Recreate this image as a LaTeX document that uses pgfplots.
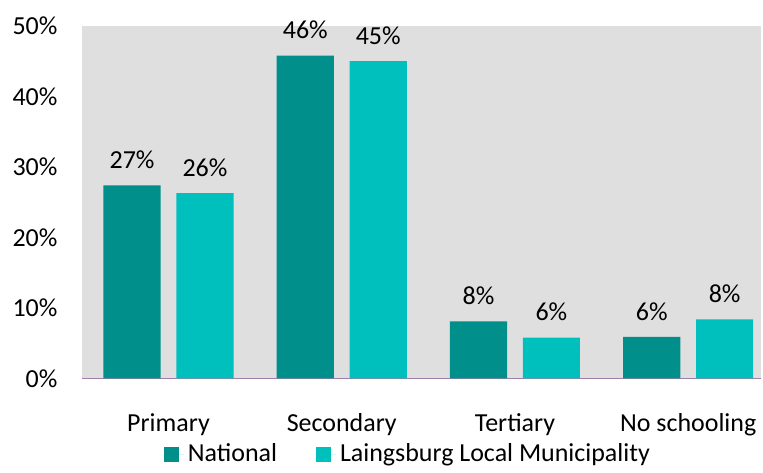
\documentclass[border=0pt]{standalone}
\usepackage{fontspec}
\setmainfont{Carlito}
\usepackage{pgfplots}
\pgfplotsset{compat=1.18}

\definecolor{natcol}{RGB}{0,143,138}
\definecolor{laicol}{RGB}{0,192,190}
\definecolor{bgcol}{RGB}{223,223,223}
\definecolor{basecol}{RGB}{160,128,170}

\begin{document}
\begin{tikzpicture}
\begin{axis}[
  scale only axis, width=340pt, height=176.5pt,
  xmin=-0.5, xmax=3.42, ymin=0, ymax=50,
  ybar, bar width=28.6pt,
  axis background/.style={fill=bgcol},
  axis x line*=bottom, axis y line*=left,
  x axis line style={draw=basecol, line width=0.8pt, -},
  y axis line style={draw=none},
  xtick={0,1,2,3},
  xticklabels={Primary,Secondary,Tertiary,No schooling},
  ytick={0,10,...,50},
  yticklabel={\pgfmathprintnumber{\tick}\%},
  tick style={draw=none},
  tick label style={font=\fontsize{13}{15}\selectfont},
  /pgf/number format/assume math mode=true,
  yticklabel style={xshift=-8.7pt},
  xticklabel style={yshift=-9.7pt},
  nodes near coords={\pgfmathprintnumber[fixed,precision=0]{\pgfplotspointmeta}\%},
  nodes near coords style={font=\fontsize{13}{15}\selectfont, yshift=4.7pt, text=black},
  legend columns=2,
  legend style={at={(0.5,0)}, anchor=center, yshift=-38pt, xshift=-6.25pt,
    draw=none, fill=none, font=\fontsize{13}{15}\selectfont,
    /tikz/every even column/.append style={column sep=17.5pt}},
  legend image code/.code={\fill[#1] (0pt,-3.75pt) rectangle (7.5pt,3.75pt);
    \path (0pt,0pt) -- (10pt,0pt);},
]
% National
\addplot[fill=natcol, draw=none, bar shift=-18.25pt]
  coordinates {(0,27.4) (1,45.8) (2,8.1) (3,5.9)};
\addlegendentry{National}
% Laingsburg
\addplot[fill=laicol, draw=none, bar shift=18.25pt]
  coordinates {(0,26.3) (1,45.0) (2,5.8) (3,8.4)};
\addlegendentry{Laingsburg Local Municipality}
\end{axis}
\path (-41pt,-42.5pt) rectangle (340.5pt,189.5pt);
\end{tikzpicture}
\end{document}
